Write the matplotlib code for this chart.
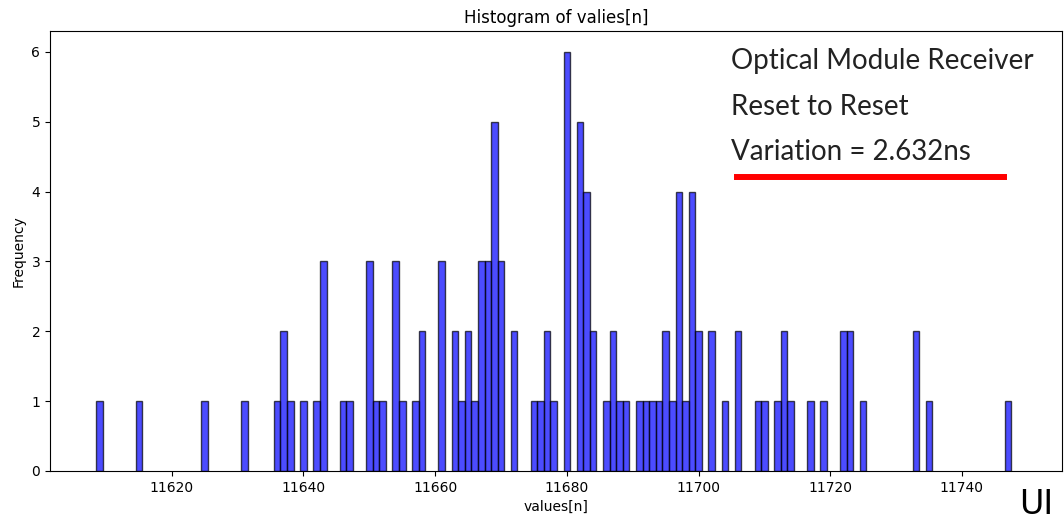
import matplotlib
matplotlib.use("Agg")
import matplotlib.pyplot as plt

# Bin centres (values[n]) and their counts
bin_centers = [11609, 11615, 11625, 11631, 11636, 11637, 11638, 11640, 11642, 11643,
               11646, 11647, 11650, 11651, 11652, 11654, 11655, 11657, 11658, 11661,
               11663, 11664, 11665, 11666, 11667, 11668, 11669, 11670, 11672, 11675,
               11676, 11677, 11678, 11680, 11682, 11683, 11684, 11686, 11687, 11688,
               11689, 11691, 11692, 11693, 11694, 11695, 11696, 11697, 11698, 11699,
               11700, 11702, 11704, 11706, 11709, 11710, 11712, 11713, 11714, 11717,
               11719, 11722, 11723, 11725, 11733, 11735, 11747]
counts = [1, 1, 1, 1, 1, 2, 1, 1, 1, 3,
          1, 1, 3, 1, 1, 3, 1, 1, 2, 3,
          2, 1, 2, 1, 3, 3, 5, 3, 2, 1,
          1, 2, 1, 6, 5, 4, 2, 1, 2, 1,
          1, 1, 1, 1, 1, 2, 1, 4, 1, 4,
          2, 2, 1, 2, 1, 1, 1, 2, 1, 1,
          1, 2, 2, 1, 2, 1, 1]

xticks = [11620, 11640, 11660, 11680, 11700, 11720, 11740]
yticks = [0, 1, 2, 3, 4, 5, 6]

title = "Histogram of valies[n]"
xlabel = "values[n]"
ylabel = "Frequency"
note_lines = ["Optical Module Receiver", "Reset to Reset", "Variation = 2.632ns"]
corner_label = "UI"

W, H = 1064, 519
fig = plt.figure(figsize=(W / 100, H / 100), dpi=100)
fig.patch.set_facecolor("white")
ax = fig.add_axes([50 / W, (H - 471) / H, (1062 - 50) / W, (471 - 31) / H])

ax.bar(bin_centers, counts, width=1.0, align="center", color="blue", alpha=0.7,
       edgecolor="black", linewidth=1.0)

ax.set_xlim(11601.5, 11755.2)
ax.set_ylim(0, 6.3)
ax.set_xticks(xticks)
ax.set_yticks(yticks)
ax.set_title(title, fontsize=12)
ax.set_xlabel(xlabel, fontsize=10)
ax.set_ylabel(ylabel, fontsize=10)

# Overlay annotation text (figure pixel coordinates)
baselines = [69, 115, 160]
for line, yb in zip(note_lines, baselines):
    fig.text(731 / W, (H - yb) / H, line, fontsize=20, family="Lato",
             color="#222222", ha="left", va="baseline")

# Red underline
fig.add_artist(plt.Line2D([737 / W, 1004 / W], [(H - 177) / H, (H - 177) / H],
                          color="red", linewidth=4.3, transform=fig.transFigure))

fig.text(1019 / W, (H - 514) / H, corner_label, fontsize=24, color="black",
         ha="left", va="baseline")

fig.savefig("out.png", dpi=100)
